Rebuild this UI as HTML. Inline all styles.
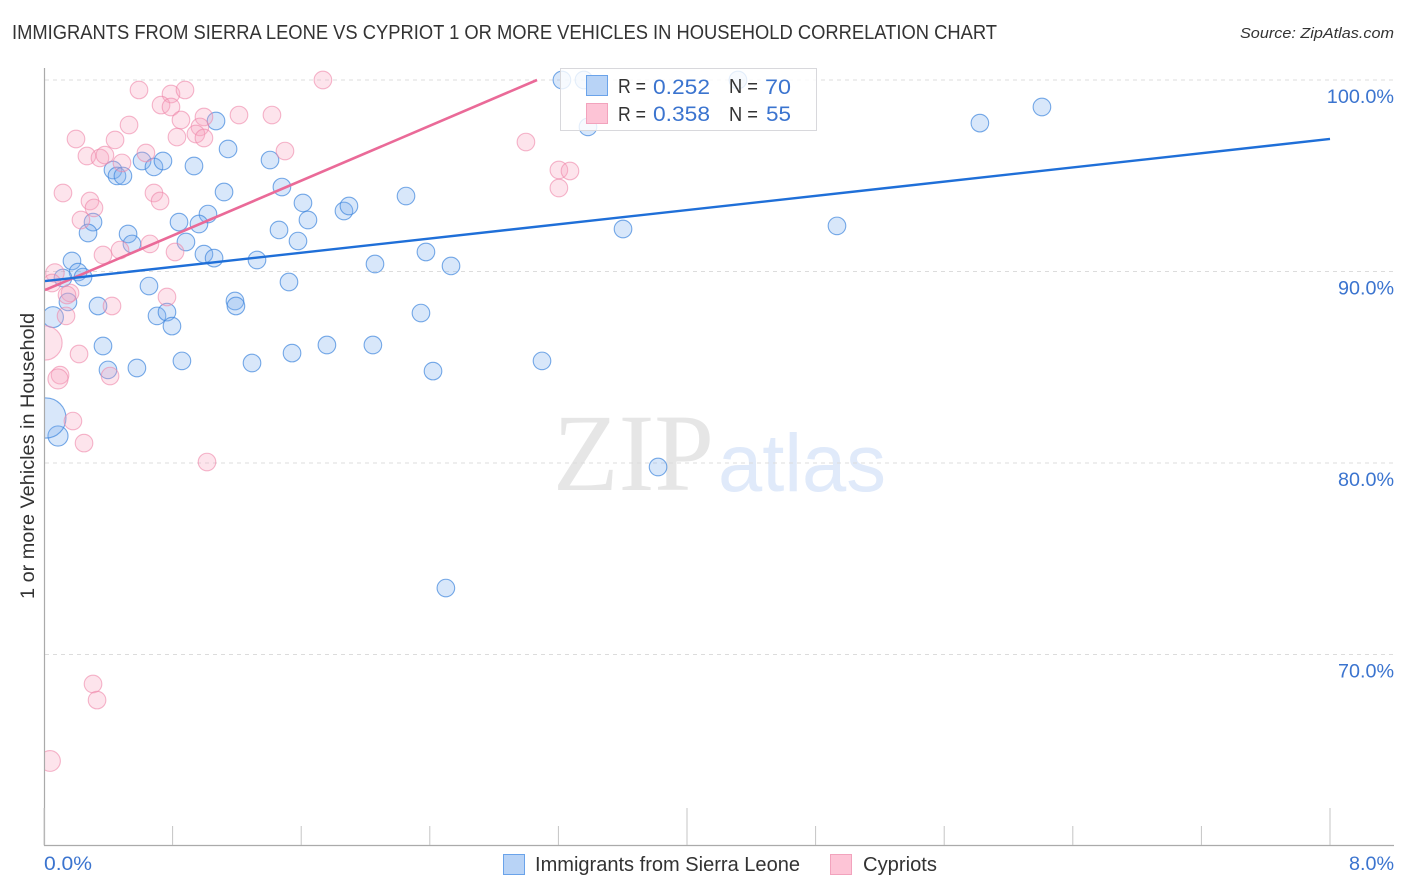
<!DOCTYPE html>
<html lang="en">
<head>
<meta charset="utf-8">
<title>Immigrants from Sierra Leone vs Cypriot 1 or more Vehicles in Household Correlation Chart</title>
<style>
html,body{margin:0;padding:0;background:#fff;width:1406px;height:892px;overflow:hidden}
svg{display:block;font-family:"Liberation Sans",sans-serif}
</style>
</head>
<body>
<svg id="chart" xmlns="http://www.w3.org/2000/svg" width="1406" height="892" viewBox="0 0 1406 892">
  <defs><clipPath id="plot-clip"><rect x="45" y="60" width="1349" height="785"/></clipPath></defs>
  <text x="12" y="39" font-size="20" fill="#333" textLength="985" lengthAdjust="spacingAndGlyphs">IMMIGRANTS FROM SIERRA LEONE VS CYPRIOT 1 OR MORE VEHICLES IN HOUSEHOLD CORRELATION CHART</text>
  <text x="1394" y="38" font-size="15" font-style="italic" fill="#333" text-anchor="end" textLength="154" lengthAdjust="spacingAndGlyphs">Source: ZipAtlas.com</text>
  <g>
    <text x="553" y="490" font-family="'Liberation Serif',serif" font-size="110" fill="#e6e6e6" textLength="161" lengthAdjust="spacingAndGlyphs">ZIP</text>
    <text x="718" y="491" font-size="82" fill="#e0eafa" textLength="168" lengthAdjust="spacingAndGlyphs">atlas</text>
  </g>
  <g id="grid"></g>
  <g id="axes"></g>
  <g id="marks" clip-path="url(#plot-clip)"></g>
  <text transform="translate(34,456) rotate(-90)" font-size="19" fill="#333" text-anchor="middle" textLength="286" lengthAdjust="spacingAndGlyphs">1 or more Vehicles in Household</text>
  <g>
    <rect x="560.5" y="68.5" width="256" height="62" fill="#fff" fill-opacity="0.8" stroke="#d8d8dc"/>
    <rect x="586.5" y="75.5" width="21" height="20" fill="#b8d3f6" stroke="#6aa3ea"/>
    <rect x="586.5" y="103.5" width="21" height="20" fill="#fdc4d6" stroke="#f2a3bd"/>
    <g font-size="20">
      <text x="618" y="93" fill="#333" textLength="28" lengthAdjust="spacingAndGlyphs">R =</text>
      <text x="653" y="94" font-size="21" fill="#3b74cf" textLength="57" lengthAdjust="spacingAndGlyphs">0.252</text>
      <text x="729" y="93" fill="#333" textLength="29" lengthAdjust="spacingAndGlyphs">N =</text>
      <text x="765" y="94" font-size="21" fill="#3b74cf" textLength="26" lengthAdjust="spacingAndGlyphs">70</text>
      <text x="618" y="121" fill="#333" textLength="28" lengthAdjust="spacingAndGlyphs">R =</text>
      <text x="653" y="121" font-size="21" fill="#3b74cf" textLength="57" lengthAdjust="spacingAndGlyphs">0.358</text>
      <text x="729" y="121" fill="#333" textLength="29" lengthAdjust="spacingAndGlyphs">N =</text>
      <text x="766" y="121" font-size="21" fill="#3b74cf" textLength="25" lengthAdjust="spacingAndGlyphs">55</text>
    </g>
  </g>
  <g>
    <rect x="503.5" y="854.5" width="21" height="20" fill="#b8d3f6" stroke="#6aa3ea"/>
    <text x="535" y="871" font-size="20" fill="#333" textLength="265" lengthAdjust="spacingAndGlyphs">Immigrants from Sierra Leone</text>
    <rect x="830.5" y="854.5" width="21" height="20" fill="#fdc4d6" stroke="#f2a3bd"/>
    <text x="863" y="871" font-size="20" fill="#333" textLength="74" lengthAdjust="spacingAndGlyphs">Cypriots</text>
  </g>
</svg>
<script>
var yTickValues = [100, 90, 80, 70];
var yTickLabels = ["100.0%", "90.0%", "80.0%", "70.0%"];
var xTickValues = [0, 0.8, 1.6, 2.4, 3.2, 4, 4.8, 5.6, 6.4, 7.2, 8];
var xMajorTicks = [0, 4, 8];
var xEdgeLabels = ["0.0%", "8.0%"];

var blueX = [1.07,1.145,1.406,.429,.454,.491,.61,.684,.74,.933,1.48,1.12,1.611,1.642,1.866,1.897,.305,.274,.84,1.02,.964,.523,.547,.883,1.462,1.58,.995,1.058,1.325,.174,.212,.118,.243,.653,1.524,1.188,1.194,.336,.149,.056,.703,.765,.796,.367,.398,.578,.858,1.294,1.543,1.76,.087,.012,2.059,2.252,2.376,2.532,2.046,2.345,2.42,3.098,3.82,2.5,3.602,4.933,5.822,6.208,3.384,3.222,3.359,4.317];
var blueY = [97.86,96.4,95.82,95.3,94.99,94.99,95.77,95.46,95.77,95.51,94.41,94.15,93.58,92.69,93.16,93.42,92.58,92.01,92.58,93,92.48,91.96,91.44,91.54,92.17,91.59,90.91,90.7,90.6,90.55,89.97,89.66,89.71,89.24,89.45,88.46,88.2,88.2,88.41,87.62,87.68,87.88,87.15,86.11,84.86,84.96,85.33,85.22,85.74,86.16,81.41,82.35,90.39,93.94,91.02,90.29,86.16,87.83,84.8,85.33,79.79,73.47,92.22,92.38,97.75,98.59,97.55,100,100,100];
var blueWeight = [1,1,1,1,1,1,1,1,1,1,1,1,1,1,1,1,1,1,1,1,1,1,1,1,1,1,1,1,1,1,1,1,1,1,1,1,1,1,1,1.4,1,1,1,1,1,1,1,1,1,1,1.3,5.2,1,1,1,1,1,1,1,1,1,1,1,1,1,1,1,1,1,1];

var pinkX = [1.735,.591,.79,.877,.728,.79,.852,.995,.97,.945,.995,.827,1.213,1.418,.529,.442,.199,.267,.348,.379,.485,.634,1.499,.118,.684,.722,.286,.311,.23,.659,.473,.367,.815,.068,.05,.162,.143,.765,.423,.137,.006,.218,.1,.087,.411,.18,.249,1.014,2.998,3.203,3.272,3.203,.305,.33,.037];
var pinkY = [100,99.48,99.27,99.48,98.69,98.59,97.91,98.07,97.55,97.18,96.97,97.02,98.17,98.17,97.65,96.87,96.92,96.03,95.93,96.08,95.67,96.19,96.29,94.1,94.1,93.68,93.68,93.32,92.69,91.44,91.12,90.86,91.02,89.92,89.4,88.88,88.77,88.67,88.2,87.68,86.27,85.69,84.59,84.39,84.54,82.19,81.04,80.05,96.76,95.3,95.25,94.36,68.46,67.62,64.44];
var pinkWeight = [1,1,1,1,1,1,1,1,1,1,1,1,1,1,1,1,1,1,1,1,1,1,1,1,1,1,1,1,1,1,1,1,1,1.1,1,1,1,1,1,1,3.8,1,1,1.3,1,1,1,1,1,1,1,1,1,1,1.4];

var blueTrendX = [0, 8];
var blueTrendY = [89.5, 96.92];
var pinkTrendX = [0, 3.067];
var pinkTrendY = [89.03, 100];

var NS = "http://www.w3.org/2000/svg";
function xScale(v) { return 44 + v * 160.75; }
function yScale(v) { return 80 + (100 - v) * 19.15; }
function rScale(w) { return 8.8 * Math.sqrt(w); }
function make(tag, attrs, parent) {
  var el = document.createElementNS(NS, tag);
  for (var k in attrs) el.setAttribute(k, attrs[k]);
  parent.appendChild(el);
  return el;
}
var grid = document.getElementById("grid");
var axes = document.getElementById("axes");
var marks = document.getElementById("marks");

yTickValues.forEach(function (v, i) {
  var line = make("line", {x1: 45, x2: 1394, y1: yScale(v), y2: yScale(v), stroke: "#dcdcdc", "stroke-width": 1, "stroke-dasharray": "4 4"}, grid);
  
  
  var label = make("text", {x: 1394, y: yScale(v) + 23, "text-anchor": "end", "font-size": 19, fill: "#3b74cf", textLength: yTickLabels[i].length * 11.2, lengthAdjust: "spacingAndGlyphs"}, axes);
  
  
  label.textContent = yTickLabels[i];
});

var yAxis = make("line", {x1: 44.5, x2: 44.5, y1: 68, y2: 846, stroke: "#aaaaaa", "stroke-width": 1.2}, axes);


var xAxis = make("line", {x1: 44, x2: 1394, y1: 845.5, y2: 845.5, stroke: "#aaaaaa", "stroke-width": 1.2}, axes);



xTickValues.forEach(function (v) {
  var major = xMajorTicks.indexOf(v) >= 0;
  var tick = make("line", {x1: xScale(v), x2: xScale(v), y1: major ? 808 : 826, y2: 845, stroke: "#c4c4c4", "stroke-width": 1}, axes);
  
  
});

var xLabelLeft = make("text", {x: 44, y: 870, "font-size": 19, fill: "#3b74cf", textLength: 48, lengthAdjust: "spacingAndGlyphs"}, axes);


xLabelLeft.textContent = xEdgeLabels[0];
var xLabelRight = make("text", {x: 1394, y: 870, "text-anchor": "end", "font-size": 19, fill: "#3b74cf", textLength: 45, lengthAdjust: "spacingAndGlyphs"}, axes);


xLabelRight.textContent = xEdgeLabels[1];

blueX.forEach(function (v, i) {
  var c = make("circle", {cx: xScale(v), cy: yScale(blueY[i]), r: rScale(blueWeight[i]), fill: "#7fb0ee", "fill-opacity": 0.3, stroke: "#3f86dd", "stroke-opacity": 0.7, "stroke-width": 1.1}, marks);
  
  
});
pinkX.forEach(function (v, i) {
  var c = make("circle", {cx: xScale(v), cy: yScale(pinkY[i]), r: rScale(pinkWeight[i]), fill: "#f9a5bf", "fill-opacity": 0.3, stroke: "#ee86a8", "stroke-opacity": 0.6, "stroke-width": 1.1}, marks);
  
  
});

var pinkTrend = make("line", {x1: xScale(pinkTrendX[0]) + 1, y1: yScale(pinkTrendY[0]), x2: xScale(pinkTrendX[1]), y2: yScale(pinkTrendY[1]), stroke: "#ea6a98", "stroke-width": 2.6}, marks);


var blueTrend = make("line", {x1: xScale(blueTrendX[0]) + 1, y1: yScale(blueTrendY[0]), x2: xScale(blueTrendX[1]), y2: yScale(blueTrendY[1]), stroke: "#1f6fd8", "stroke-width": 2.4}, marks);


</script>
</body>
</html>
